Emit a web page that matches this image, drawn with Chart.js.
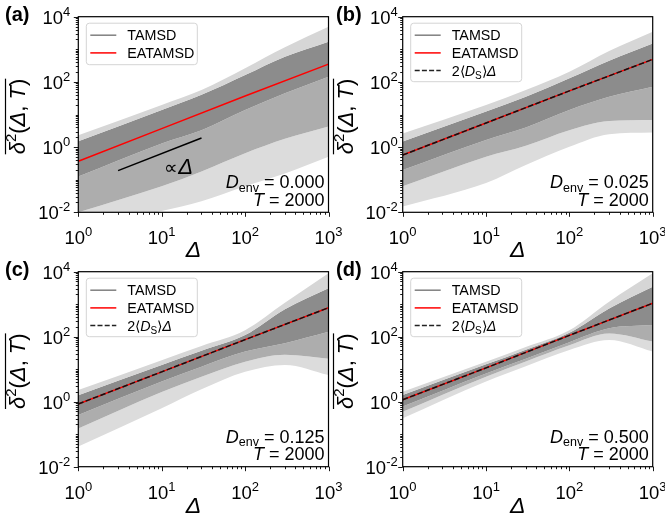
<!DOCTYPE html>
<html>
<head>
<meta charset="utf-8">
<script src="https://cdn.jsdelivr.net/npm/chart.js@4.4.0/dist/chart.umd.min.js"></script>
<style>
  body { margin: 0; background: #fff; }
  #wrap { position: relative; width: 665px; height: 517px; overflow: hidden; }
  canvas { position: absolute; }
</style>
</head>
<body>
<div id="wrap">
  <canvas id="panelA" width="345" height="258" style="left:0;top:0"></canvas>
  <canvas id="panelB" width="333" height="258" style="left:332px;top:0"></canvas>
  <canvas id="panelC" width="345" height="259" style="left:0;top:258px"></canvas>
  <canvas id="panelD" width="333" height="259" style="left:332px;top:258px"></canvas>
</div>
<script>
// lag times where the TAMSD spread is sampled
const lags = [1, 10, 30, 100, 300, 1000];

// TAMSD spread per panel, curves from the faint top edge down to the faint bottom edge
const tamsdA = [
  [2.3, 19.5, 56, 263, 1150, 4900],
  [1.5, 13.8, 40, 162, 590, 1700],
  [0.126, 1.3, 3.3, 13.8, 45, 145],
  [0.01, 0.063, 0.18, 0.65, 1.8, 4.3],
  [0.0025, 0.011, 0.022, 0.063, 0.155, 0.51]
];
const tamsdB = [
  [2.6, 19.5, 56, 204, 890, 3470],
  [1.48, 12.3, 35, 129, 447, 1510],
  [0.2, 1.66, 4, 13.8, 35, 71],
  [0.063, 0.51, 1.1, 3.3, 6.3, 6.8],
  [0.015, 0.079, 0.28, 1.02, 2.5, 2.8]
];
const tamsdC = [
  [2.3, 19, 52, 158, 1100, 8900],
  [1.58, 13.5, 37, 112, 700, 3100],
  [0.39, 4.2, 12, 35, 63, 141],
  [0.15, 2.0, 5.9, 17, 28, 21],
  [0.042, 0.63, 2.4, 8.3, 13.5, 6.6]
];
const tamsdD = [
  [2.04, 17, 48, 158, 1200, 8900],
  [1.62, 14.1, 40, 132, 740, 3470],
  [0.71, 7.4, 21, 68, 182, 229],
  [0.49, 5.9, 17.4, 55, 126, 71],
  [0.31, 4.2, 12.3, 39, 79, 35]
];

// ensemble average and the 2<D_S>Δ prediction
const fitLags = [1, 10, 100, 1000];
const eatamsdA = [0.37, 3.7, 37, 350];
const eatamsdB = [0.57, 5.5, 53, 490];
const eatamsdC = [0.85, 8.3, 81, 780];
const eatamsdD = [1.15, 11, 110, 1070];
const theoryB = [0.57, 5.5, 53, 490];
const theoryC = [0.85, 8.3, 81, 780];
const theoryD = [1.15, 11, 110, 1070];

// slope guide in panel (a)
const guideLags = [3, 30];
const guideVals = [0.19, 1.9];

const denvValues = ['0.000', '0.025', '0.125', '0.500'];
const xTickExps = [0, 1, 2, 3];
const yTickExps = [-2, 0, 2, 4];

const FONT = '"Liberation Sans", Arial, Helvetica, sans-serif';
const bandColors = ['#d6d6d6', '#8c8c8c', '#adadad', '#dcdcdc'];

function fontOf(r) {
  return (r.style || '') + ' ' + r.size + 'px ' + FONT;
}

// draw a row of text pieces with their own size / style / vertical shift
function drawRuns(ctx, runs, x, y, align) {
  let w = 0;
  runs.forEach(r => { ctx.font = fontOf(r); r.w = ctx.measureText(r.t).width; w += r.w; });
  let cx = align === 'right' ? x - w : align === 'center' ? x - w / 2 : x;
  runs.forEach(r => {
    ctx.font = fontOf(r);
    ctx.fillText(r.t, cx, y + (r.dy || 0));
    cx += r.w;
  });
  return w;
}

function powerRuns(k) {
  return [{ t: '10', size: 18.5 }, { t: String(k), size: 13, dy: -8 }];
}

const panelDecor = {
  id: 'panelDecor',
  afterDraw(chart, args, o) {
    const ctx = chart.ctx;
    const a = chart.chartArea;
    const xs = chart.scales.x, ys = chart.scales.y;
    ctx.save();
    ctx.fillStyle = '#000';
    ctx.strokeStyle = '#000';
    ctx.textBaseline = 'alphabetic';

    // frame
    ctx.lineWidth = 1.2;
    ctx.strokeRect(a.left, a.top, a.right - a.left, a.bottom - a.top);

    // outward ticks
    ctx.beginPath();
    for (let k = 0; k <= 3; k++) {
      for (let m = 1; m <= 9; m++) {
        if (k === 3 && m > 1) break;
        const px = Math.round(xs.getPixelForValue(m * Math.pow(10, k))) + 0.5;
        const len = m === 1 ? 4.5 : 2.5;
        ctx.moveTo(px, a.bottom);
        ctx.lineTo(px, a.bottom + len);
      }
    }
    for (let k = -2; k <= 4; k++) {
      for (let m = 1; m <= 9; m++) {
        if (k === 4 && m > 1) break;
        const py = Math.round(ys.getPixelForValue(m * Math.pow(10, k))) + 0.5;
        const len = (m === 1 && k % 2 === 0) ? 4.5 : 2.5;
        ctx.moveTo(a.left, py);
        ctx.lineTo(a.left - len, py);
      }
    }
    ctx.lineWidth = 0.9;
    ctx.stroke();

    // tick labels
    xTickExps.forEach(k => {
      drawRuns(ctx, powerRuns(k), xs.getPixelForValue(Math.pow(10, k)), a.bottom + 32, 'center');
    });
    yTickExps.forEach(k => {
      drawRuns(ctx, powerRuns(k), a.left - o.yPad, ys.getPixelForValue(Math.pow(10, k)) + 7, 'right');
    });

    // axis titles
    drawRuns(ctx, [{ t: 'Δ', size: 23, style: 'italic' }], (a.left + a.right) / 2 - 10, a.bottom + o.xTitle, 'center');

    ctx.save();
    ctx.translate(o.yTitleX, (a.top + a.bottom) / 2 + 2);
    ctx.rotate(-Math.PI / 2);
    const w = drawRuns(ctx, [
      { t: 'δ', size: 22, style: 'italic' },
      { t: '2', size: 15, dy: -9 },
      { t: '(', size: 22 },
      { t: 'Δ', size: 22, style: 'italic' },
      { t: ', ', size: 22 },
      { t: 'T', size: 22, style: 'italic' },
      { t: ')', size: 22 }
    ], 0, 0, 'center');
    ctx.lineWidth = 1.2;
    ctx.beginPath();
    ctx.moveTo(-w / 2, -19.5);
    ctx.lineTo(w / 2, -19.5);
    ctx.stroke();
    ctx.restore();

    // panel letter
    drawRuns(ctx, [{ t: o.letter, size: 20, style: 'bold' }], o.letterX, o.letterY, 'left');

    // parameter annotation
    drawRuns(ctx, [
      { t: 'D', size: 18, style: 'italic' },
      { t: 'env', size: 12.5, dy: 3.5 },
      { t: ' = ' + o.denv, size: 18 }
    ], a.right - 4, a.bottom - 24, 'right');
    drawRuns(ctx, [
      { t: 'T', size: 18, style: 'italic' },
      { t: ' = 2000', size: 18 }
    ], a.right - 4, a.bottom - 6.5, 'right');

    // proportionality note next to the guide line
    if (o.guideNote) {
      drawRuns(ctx, [
        { t: '∝', size: 19 },
        { t: 'Δ', size: 22, style: 'italic' }
      ], a.left + 86, a.top + 157, 'left');
    }

    // legend
    const rows = o.theory ? 3 : 2;
    const lx = a.left + 8, ly = a.top + 6.5, lw = 111, lh = rows === 3 ? 58.5 : 41.5;
    ctx.beginPath();
    ctx.roundRect(lx, ly, lw, lh, 3);
    ctx.fillStyle = 'rgba(255,255,255,0.85)';
    ctx.fill();
    ctx.strokeStyle = '#d4d4d4';
    ctx.lineWidth = 1;
    ctx.stroke();
    const entries = [
      { color: '#808080', dash: [], runs: [{ t: 'TAMSD', size: 14.3 }] },
      { color: '#ff0000', dash: [], runs: [{ t: 'EATAMSD', size: 14.3 }] },
      { color: '#222', dash: [5, 2.2], runs: [
        { t: '2⟨', size: 14.3 },
        { t: 'D', size: 14.3, style: 'italic' },
        { t: 'S', size: 10, dy: 3 },
        { t: '⟩', size: 14.3 },
        { t: 'Δ', size: 14.3, style: 'italic' }
      ] }
    ];
    for (let i = 0; i < rows; i++) {
      const e = entries[i];
      const ry = ly + 12 + i * 17.7;
      ctx.strokeStyle = e.color;
      ctx.lineWidth = 1.5;
      ctx.setLineDash(e.dash);
      ctx.beginPath();
      ctx.moveTo(lx + 4, ry);
      ctx.lineTo(lx + 30, ry);
      ctx.stroke();
      ctx.setLineDash([]);
      ctx.fillStyle = '#000';
      drawRuns(ctx, e.runs, lx + 41, ry + 5, 'left');
    }
    ctx.restore();
  }
};

function bandSets(curves) {
  return curves.map((vals, i) => ({
    data: vals.map((v, j) => ({ x: lags[j], y: v })),
    borderWidth: 0,
    pointRadius: 0,
    cubicInterpolationMode: 'monotone',
    order: 5,
    fill: i === 0 ? false : '-1',
    backgroundColor: i === 0 ? 'transparent' : bandColors[i - 1]
  }));
}

function lineSet(xv, yv, color, dash, order) {
  return {
    data: xv.map((x, j) => ({ x: x, y: yv[j] })),
    borderColor: color,
    borderWidth: 1.5,
    borderDash: dash || [],
    pointRadius: 0,
    order: order,
    fill: false
  };
}

function makePanel(id, g) {
  const sets = bandSets(g.bands);
  sets.push(lineSet(fitLags, g.eatamsd, '#ff0000', [], 2));
  if (g.theory) sets.push(lineSet(fitLags, g.theory, '#111111', [5.5, 2.4], 1));
  if (g.guide) sets.push(lineSet(guideLags, guideVals, '#000000', [], 1));
  new Chart(document.getElementById(id), {
    type: 'line',
    data: { datasets: sets },
    options: {
      responsive: false,
      animation: false,
      layout: { padding: { top: g.padTop, right: g.padRight, left: 0, bottom: 0 } },
      plugins: {
        legend: { display: false },
        tooltip: { enabled: false },
        panelDecor: {
          letter: g.letter, letterX: g.letterX, letterY: g.letterY,
          denv: g.denv, theory: !!g.theory, guideNote: !!g.guide,
          yPad: g.yPad, yTitleX: g.yTitleX, xTitle: g.xTitle
        }
      },
      scales: {
        x: {
          type: 'logarithmic', min: 1, max: 1000,
          ticks: { display: false }, grid: { display: false }, border: { display: false },
          afterFit: s => { s.height = g.xHeight; }
        },
        y: {
          type: 'logarithmic', min: 0.01, max: 10000,
          ticks: { display: false }, grid: { display: false }, border: { display: false },
          afterFit: s => { s.width = g.yWidth; }
        }
      }
    },
    plugins: [panelDecor]
  });
}

makePanel('panelA', {
  bands: tamsdA, eatamsd: eatamsdA, guide: true, denv: denvValues[0],
  letter: '(a)', letterX: 5, letterY: 21,
  yWidth: 78.3, xHeight: 45.7, padTop: 16.7, padRight: 16.5,
  yPad: 8, yTitleX: 25, xTitle: 44.5
});
makePanel('panelB', {
  bands: tamsdB, eatamsd: eatamsdB, theory: theoryB, denv: denvValues[1],
  letter: '(b)', letterX: 4, letterY: 21,
  yWidth: 70.7, xHeight: 45.7, padTop: 16.7, padRight: 12.3,
  yPad: 5, yTitleX: 21, xTitle: 44.5
});
makePanel('panelC', {
  bands: tamsdC, eatamsd: eatamsdC, theory: theoryC, denv: denvValues[2],
  letter: '(c)', letterX: 5, letterY: 18,
  yWidth: 78.3, xHeight: 50.3, padTop: 13.7, padRight: 16.5,
  yPad: 8, yTitleX: 25, xTitle: 46
});
makePanel('panelD', {
  bands: tamsdD, eatamsd: eatamsdD, theory: theoryD, denv: denvValues[3],
  letter: '(d)', letterX: 4, letterY: 18,
  yWidth: 70.7, xHeight: 50.3, padTop: 13.7, padRight: 12.3,
  yPad: 5, yTitleX: 21, xTitle: 46
});
</script>
</body>
</html>
